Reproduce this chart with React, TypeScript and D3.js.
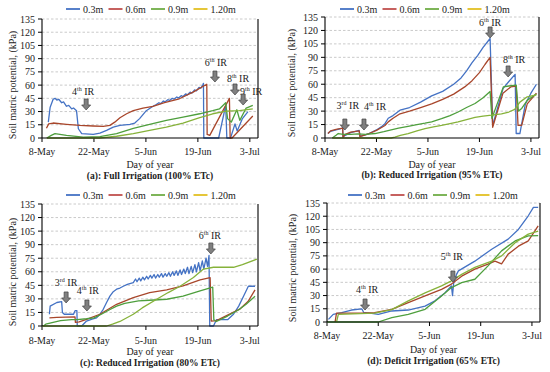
import React from "react";
import * as d3 from "d3";

// days counted from 8-May
const tickDays = [0, 14, 28, 42, 56];
const tickLabels = ["8-May", "22-May", "5-Jun", "19-Jun", "3-Jul"];
const yTicks = [0, 15, 30, 45, 60, 75, 90, 105, 120, 135];
const depths = ["0.3m", "0.6m", "0.9m", "1.20m"];
const lineColors = ["#4472C4", "#A8462B", "#4E9F3D", "#86B23A"];
const legendColors = ["#4472C4", "#C0504D", "#70AD47", "#E2C023"];

// (a) full irrigation
const a03 = [[1.7,18],[2.2,35],[3,44],[3.5,45],[4,43],[4.5,44],[5.3,40],[5.8,41],[6.6,36],[7.2,37],[8,33],[8.5,34],[9.3,31],[9.8,10.5],[10.7,5],[13.8,4],[15.6,5.5],[17.4,8.7],[19.2,12.4],[21,14.3],[23.7,15.5],[25,17],[26.3,22],[28.1,31],[29.9,36],[30.8,38],[31.5,40],[32,39],[32.7,42],[33.2,41],[33.9,43.5],[34.4,42.5],[35.1,45],[35.6,44],[36.3,46.5],[36.8,45.5],[37.5,48],[38,47],[38.7,50],[39.2,49],[39.9,52],[40.4,51],[41.1,54.5],[41.6,53.5],[42.3,57.5],[42.8,56.5],[43.4,61],[43.5,62],[43.6,0],[47.6,0],[49.5,37],[49.8,0],[50.8,0],[52,16],[52.6,8],[54,22],[55.5,30]];
const a06 = [[1.2,11],[1.8,16],[3,17],[6.6,15.5],[10.2,14.3],[13.8,13.6],[16.5,13.2],[18.3,14.3],[19.6,18],[21,23],[22.8,27.5],[24.6,31],[27.2,34],[29.9,36],[33,40],[37,44.5],[40.7,52],[44.4,61],[44.5,4],[45.2,3],[50.5,45],[50.7,0],[51.2,0],[56.8,25]];
const a09 = [[1.3,0],[2.5,3],[3.5,5],[6.6,3],[11.1,1],[15.6,1.5],[20.1,5],[24.6,11],[29,15.5],[33.5,20],[38,23.8],[42.5,27.5],[46,31],[47.8,33],[49.5,40],[50,22],[51,18],[52.5,32],[53.3,20],[55,34],[56.8,37]];
const a12 = [[1.3,0],[15.6,0],[20.1,2],[24.6,5],[29,8.7],[33.5,12.4],[38,17],[42.5,23],[46,27.5],[49.6,30.5],[53.2,31],[56.8,33]];

// (b) 95% ETc
const b03 = [[0.8,5],[1.5,7.5],[3,9],[4.8,11],[4.9,1],[5.5,3],[7,6],[9.3,8.5],[9.5,2],[10.5,3],[12,5],[14,9],[15.5,13],[16.3,16],[17.2,22],[18.5,25],[20.4,31],[23,34],[26,40],[29,47],[32,52],[35,60],[37,67],[38.5,75],[40,84],[41.5,92],[43,101],[44.9,111],[45.6,14],[48.4,55],[50,63],[51.7,71],[52,5],[53,5],[54.5,38],[56,50],[57.5,60]];
const b06 = [[0.8,5],[1.5,8],[3,9.5],[4.8,11],[4.9,1],[5.5,4],[7,6.5],[9.3,8],[9.5,1.5],[10.5,3],[12,5],[14,8.5],[15.5,12],[16.3,14],[17.2,18],[18.5,22],[20.4,27],[23,30],[26,34],[29,38],[32,43],[35,49],[38,57],[40,64],[42,73],[43.5,82],[44.9,90],[45.6,12],[48.4,50],[50.5,57],[52,58],[52.5,14],[53.5,14],[55,38],[57.5,50]];
const b09 = [[2,0],[3,3],[3.6,5],[5,4],[7,4],[9,4.5],[11,4],[13.6,5],[16,7],[18,9],[20,11],[22.6,13],[25,15],[27.2,16.5],[29,18],[31.7,21.5],[34,25],[36.2,29],[38.5,34],[40.8,38.5],[43,45],[44.9,52],[45.4,22],[47,40],[48.5,57],[50,58],[52,59],[52.6,30],[53.5,33],[55,42],[57.5,49]];
const b12 = [[2,0],[18,0],[19,1],[20.5,3],[22.6,5],[25,8],[27.2,10.5],[29.5,12.5],[31.7,14],[34,16],[36.2,18],[38.5,20.5],[40.8,23],[43,24.5],[45.3,25.5],[48,27],[50,29],[51.6,32],[53,40],[55,46],[57.5,48]];

// (c) 80% ETc
const c03 = [[2,13],[2.2,22],[4,26],[5.3,27],[5.5,15],[6,13],[8.5,13],[8.9,17],[9.4,17],[9.5,0],[10.7,0],[12,5.5],[13.5,7.5],[14.7,9],[15.6,13],[16.5,18.5],[17.4,26],[18.3,33],[19.2,38],[20.1,40.7],[21,42],[21.9,44],[23,46],[24.6,48],[25.2,52],[25.6,49],[26.2,53],[26.6,50],[27.2,54],[27.6,51],[28.2,55],[28.6,52],[29.2,56],[29.6,53],[30.2,57],[30.6,53],[31.2,57],[31.6,54],[32.2,58],[32.6,54],[33.2,58],[33.6,55],[34.2,59],[34.6,55],[35.2,60],[35.6,56],[36.2,61],[36.6,56],[37.2,62],[37.6,57],[38.2,63],[38.6,58],[39.2,65],[39.6,58],[40.2,66],[40.6,59],[41.2,68],[41.6,60],[42.2,70],[42.6,61],[43.2,72],[43.6,63],[44.2,75],[44.6,66],[45,78],[45.2,0],[46.2,0],[47,7],[50,7],[51.6,13],[53,22],[54.3,33],[55.6,44],[57.4,44]];
const c06 = [[2,9],[4,9.5],[8.9,10],[9,4],[10,4.5],[12,7.4],[15.6,13],[20.1,24],[24.6,31.5],[29,37],[33.6,40],[38,44.4],[42.6,51],[45.3,53.6],[45.6,5.5],[47,6],[50,12],[53.4,19],[55.5,27],[57.4,40]];
const c09 = [[0.4,0],[1,2],[3,4],[5,6],[8,7],[9.4,7],[12,8],[14,9],[16,13],[18.2,18],[20.1,22],[22.3,25],[26,27.7],[29,28.5],[33.6,29.6],[38,33],[42.6,39],[46,43],[46.3,7],[47,5],[50,11],[53,18],[55,24],[57.4,33]];
const c12 = [[0,0],[17.4,0],[19,2],[21,5],[24.6,13],[27,20],[30.9,29.6],[34,37],[37.2,44],[40.8,53.6],[43.5,63],[46.2,65],[51.6,65],[54,68],[57.9,74]];

// (d) 65% ETc
const d03 = [[0.4,3],[1.7,8.7],[4,10.6],[6.7,13.6],[9.5,15],[10,11],[12.2,9.8],[14,8.7],[17.7,12.5],[22.2,13.6],[26.8,18],[29.5,24],[32.2,33],[34,41],[34.3,30],[34.6,44],[35.4,54],[35.9,58],[40.4,69],[45,82.6],[49.5,94],[52.3,105],[55,120.5],[56.4,130],[57.7,130]];
const d06 = [[2.2,0],[2.6,10],[9.5,10],[13,10.6],[17.7,14.4],[22.2,22],[26.8,29.6],[31.3,37],[34,43],[36.8,52],[40.4,60],[44,65.6],[45.9,69],[47.7,66],[49.5,77],[52.3,86],[55,92],[57.7,109]];
const d09 = [[0,0],[14,0],[17.7,5],[22.2,8.7],[26.8,14.4],[31.3,29.6],[34,39],[36.8,44.7],[40.4,48.5],[44,63.7],[47.7,80.7],[51.4,92],[55,97.8],[57.7,98]];
const d12 = [[2.6,0],[3.1,8.7],[13,10],[17.7,14],[22.2,24],[26.8,33],[31.3,41],[34,46.6],[36.8,54],[40.4,62],[45,69],[47.7,75],[51.4,90],[55,99.7],[57.7,103]];

// irrigation arrows: event number, suffix, tip (day, kPa)
const arrowsA = [["4","th",11.9,31.8],["6","th",46.6,63.5],["8","th",52,48.8],["9","th",54.2,37.4]];
const arrowsB = [["3","rd",5.4,8.9],["4","th",10.6,8.9],["6","th",44.9,111.6],["8","th",49.8,68.1]];
const arrowsC = [["3","rd",6.5,25.5],["4","th",12.1,16.6],["6","th",45.5,79.7]];
const arrowsD = [["4","th",10.4,13.6],["5","th",34.4,45.4]];

const FONT = "'Liberation Serif', 'DejaVu Serif', serif";

const panels = [
  {box:{left:42,right:258,top:19,bottom:138}, series:[a03,a06,a09,a12], arrows:arrowsA,
   lab:[[-3,-15],[1,-16],[3,-13],[8,-10]], caption:"(a): Full Irrigation (100% ETc)",
   legendX:83, legendY:9, tickY:155, titleY:167.5, capY:178.5, yLabX:12, yLabY:85},
  {box:{left:325,right:539,top:17,bottom:138}, series:[b03,b06,b09,b12], arrows:arrowsB,
   lab:[[3,-21],[11,-20],[0,-12],[6,-14]], caption:"(b): Reduced Irrigation (95% ETc)",
   legendX:357, legendY:9, tickY:154.5, titleY:167.5, capY:178, yLabX:291, yLabY:83},
  {box:{left:42,right:258,top:204,bottom:326}, series:[c03,c06,c09,c12], arrows:arrowsC,
   lab:[[0,-17],[1,-17],[-1,-15]], caption:"(c): Reduced Irrigation (80% ETc)",
   legendX:83, legendY:195, tickY:343.5, titleY:355, capY:366, yLabX:12, yLabY:272},
  {box:{left:327,right:540,top:203,bottom:322}, series:[d03,d06,d09,d12], arrows:arrowsD,
   lab:[[2,-17.5],[-1,-21.5]], caption:"(d): Deficit Irrigation (65% ETc)",
   legendX:365, legendY:195, tickY:339, titleY:352.5, capY:364, yLabX:292, yLabY:268},
];

function Panel({p}: {p: any}) {
  const {box} = p;
  const x = d3.scaleLinear().domain([0, 58.2]).range([box.left, box.right]);
  const y = d3.scaleLinear().domain([0, 135]).range([box.bottom, box.top]);
  const line = d3.line<number[]>().x(d => x(d[0])).y(d => y(d[1]));
  const cx = (box.left + box.right) / 2;

  return (
    <g fontFamily={FONT} fill="#222">
      {yTicks.filter(t => t > 0).map(t => (
        <line key={"g"+t} x1={box.left} x2={box.right} y1={y(t)} y2={y(t)}
          stroke="#BDBDBD" strokeWidth={0.8} strokeDasharray="2.5,2" />
      ))}
      {yTicks.map(t => (
        <g key={"y"+t}>
          <line x1={box.left - 4} x2={box.left} y1={y(t)} y2={y(t)} stroke="#000" />
          <text x={box.left - 7} y={y(t)} dy="0.35em" textAnchor="end" fontSize={10}>{t}</text>
        </g>
      ))}
      {tickDays.map((d, i) => (
        <g key={"x"+d}>
          <line x1={x(d)} x2={x(d)} y1={box.bottom} y2={box.bottom + 4} stroke="#000" />
          <text x={x(d)} y={p.tickY} textAnchor="middle" fontSize={10}>{tickLabels[i]}</text>
        </g>
      ))}
      {p.series.map((s: number[][], i: number) => (
        <path key={"s"+i} d={line(s) || ""} fill="none" stroke={lineColors[i]} strokeWidth={1.3} strokeLinejoin="round" />
      ))}
      <line x1={box.left} x2={box.left} y1={box.top} y2={box.bottom} stroke="#000" strokeWidth={1.1} />
      <line x1={box.right} x2={box.right} y1={box.top} y2={box.bottom} stroke="#000" strokeWidth={1.1} />
      <line x1={box.left} x2={box.right} y1={box.bottom} y2={box.bottom} stroke="#000" strokeWidth={1.1} />
      {p.arrows.map((a: any[], i: number) => {
        const tx = x(a[2]), ty = y(a[3]);
        const [dx, dy] = p.lab[i];
        return (
          <text key={"l"+i} x={tx + dx} y={ty + dy} textAnchor="middle" fontSize={10}>
            {a[0]}<tspan fontSize={6} dy={-4}>{a[1]}</tspan><tspan dy={4}> IR</tspan>
          </text>
        );
      })}
      {p.arrows.map((a: any[], i: number) => {
        const tx = x(a[2]), ty = y(a[3]);
        const dPath = `M${tx-2},${ty-11}H${tx+2}V${ty-5}H${tx+4.5}L${tx},${ty}L${tx-4.5},${ty-5}H${tx-2}Z`;
        return <path key={"a"+i} d={dPath} fill="#808080" stroke="#404040" strokeWidth={0.7} />;
      })}
      {depths.map((dep, i) => {
        const lx = p.legendX + i * 42.5;
        return (
          <g key={"lg"+i}>
            <line x1={lx - 17} x2={lx - 3} y1={p.legendY} y2={p.legendY} stroke={legendColors[i]} strokeWidth={1.8} />
            <text x={lx} y={p.legendY} dy="0.35em" fontSize={10}>{dep}</text>
          </g>
        );
      })}
      <text transform={`translate(${p.yLabX},${p.yLabY}) rotate(-90)`} textAnchor="middle" dy="0.35em" fontSize={10}>
        Soil matric potential, (kPa)
      </text>
      <text x={cx} y={p.titleY} textAnchor="middle" fontSize={10}>Day of year</text>
      <text x={cx} y={p.capY} textAnchor="middle" fontSize={9.5} fontWeight="bold">{p.caption}</text>
    </g>
  );
}

export default function App() {
  return (
    <div style={{position: "absolute", left: 0, top: 0}}>
      <svg width={550} height={372} style={{display: "block", background: "#fff"}}>
        {panels.map((p, i) => <Panel key={i} p={p} />)}
      </svg>
    </div>
  );
}
